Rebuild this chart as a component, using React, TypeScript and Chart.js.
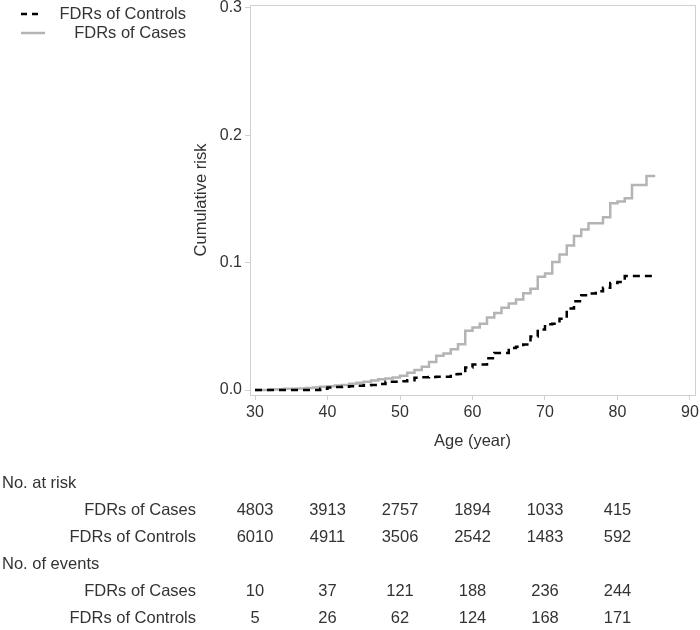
import { useEffect, useRef } from "react";
import { Chart, registerables } from "chart.js";

Chart.register(...registerables);

// ---- Data ----
const ages = [
  30, 31, 32, 33, 34, 35, 36, 37, 38, 39,
  40, 41, 42, 43, 44, 45, 46, 47, 48, 49,
  50, 51, 52, 53, 54, 55, 56, 57, 58, 59,
  60, 61, 62, 63, 64, 65, 66, 67, 68, 69,
  70, 71, 72, 73, 74, 75, 76, 77, 78, 79,
  80, 81, 82, 83, 84, 85,
];
const casesRisk = [
  0, 0, 0.0005, 0.0007, 0.001, 0.001, 0.0012, 0.0015, 0.002, 0.0025,
  0.003, 0.0035, 0.004, 0.005, 0.0058, 0.0065, 0.0075, 0.0085, 0.009, 0.0098,
  0.0112, 0.0136, 0.0157, 0.0183, 0.022, 0.027, 0.0287, 0.032, 0.036, 0.0465,
  0.049, 0.052, 0.057, 0.0605, 0.0647, 0.068, 0.071, 0.076, 0.0796, 0.089,
  0.0914, 0.1005, 0.1065, 0.1135, 0.121, 0.126, 0.131, 0.131, 0.1357, 0.1467,
  0.148, 0.1506, 0.161, 0.161, 0.168, 0.168,
];
const controlsRisk = [
  0, 0, 0, 0, 0, 0, 0, 0, 0, 0.001,
  0.002, 0.0023, 0.0026, 0.003, 0.0034, 0.0038, 0.004, 0.0047, 0.0065, 0.0065,
  0.0068, 0.0076, 0.0097, 0.01, 0.0102, 0.0104, 0.0104, 0.0123, 0.0125, 0.0177,
  0.02, 0.02, 0.025, 0.029, 0.029, 0.033, 0.034, 0.0357, 0.042, 0.0475,
  0.0517, 0.052, 0.056, 0.064, 0.0697, 0.0744, 0.0757, 0.0775, 0.0804, 0.084,
  0.0849, 0.0896, 0.0896, 0.0896, 0.0896, 0.0896,
];
const casesEndAge = 85.2;
const controlsEndAge = 85.1;

const xTicks = [30, 40, 50, 60, 70, 80, 90];
const yTicks = [0, 0.1, 0.2, 0.3];

const tableAges = [30, 40, 50, 60, 70, 80];
const casesAtRisk = [4803, 3913, 2757, 1894, 1033, 415];
const controlsAtRisk = [6010, 4911, 3506, 2542, 1483, 592];
const casesEvents = [10, 37, 121, 188, 236, 244];
const controlsEvents = [5, 26, 62, 124, 168, 171];

const labelCases = "FDRs of Cases";
const labelControls = "FDRs of Controls";

// ---- Styles ----
const FONT_FAMILY = '"Liberation Sans", Arial, sans-serif';
const TEXT_COLOR = "#333333";
const FRAME_COLOR = "#d0d0d0";
const CASES_COLOR = "#b4b4b4";
const CONTROLS_COLOR = "#000000";

function toPoints(xs: number[], ys: number[], endX: number) {
  const pts = xs.map((x, i) => ({ x, y: ys[i] }));
  pts.push({ x: endX, y: ys[ys.length - 1] });
  return pts;
}

const overlayPlugin = {
  id: "overlay",
  beforeDatasetsDraw(chart: any) {
    const { ctx, chartArea } = chart;
    ctx.save();
    ctx.strokeStyle = FRAME_COLOR;
    ctx.lineWidth = 1;
    ctx.strokeRect(
      Math.round(chartArea.left) + 0.5,
      Math.round(chartArea.top) + 0.5,
      Math.round(chartArea.right - chartArea.left),
      Math.round(chartArea.bottom - chartArea.top)
    );
    ctx.restore();
  },
  afterDraw(chart: any) {
    const { ctx, chartArea } = chart;
    const xs = chart.scales.x;
    ctx.save();
    ctx.fillStyle = TEXT_COLOR;
    ctx.font = `16.5px ${FONT_FAMILY}`;
    ctx.textBaseline = "middle";

    // Legend
    ctx.save();
    ctx.strokeStyle = CONTROLS_COLOR;
    ctx.lineWidth = 2.5;
    ctx.setLineDash([6, 5]);
    ctx.beginPath();
    ctx.moveTo(21, 14);
    ctx.lineTo(38, 14);
    ctx.stroke();
    ctx.setLineDash([]);
    ctx.strokeStyle = CASES_COLOR;
    ctx.beginPath();
    ctx.moveTo(21, 33);
    ctx.lineTo(45, 33);
    ctx.stroke();
    ctx.restore();
    ctx.textAlign = "right";
    ctx.fillText(labelControls, 186, 14);
    ctx.fillText(labelCases, 186, 33);

    // Axis titles
    ctx.textAlign = "center";
    ctx.fillText("Age (year)", (chartArea.left + chartArea.right) / 2, 441);
    ctx.save();
    ctx.translate(201, (chartArea.top + chartArea.bottom) / 2);
    ctx.rotate(-Math.PI / 2);
    ctx.fillText("Cumulative risk", 0, 0);
    ctx.restore();

    // Risk table
    const rowY = [483, 510, 537, 564, 591, 618];
    ctx.textAlign = "left";
    ctx.fillText("No. at risk", 2, rowY[0]);
    ctx.fillText("No. of events", 2, rowY[3]);
    ctx.textAlign = "right";
    ctx.fillText(labelCases, 196, rowY[1]);
    ctx.fillText(labelControls, 196, rowY[2]);
    ctx.fillText(labelCases, 196, rowY[4]);
    ctx.fillText(labelControls, 196, rowY[5]);
    ctx.textAlign = "center";
    const rows: [number[], number][] = [
      [casesAtRisk, rowY[1]],
      [controlsAtRisk, rowY[2]],
      [casesEvents, rowY[4]],
      [controlsEvents, rowY[5]],
    ];
    rows.forEach(([vals, y]) => {
      vals.forEach((v, i) => {
        ctx.fillText(String(v), xs.getPixelForValue(tableAges[i]), y);
      });
    });
    ctx.restore();
  },
};

export default function App() {
  const canvasRef = useRef<HTMLCanvasElement | null>(null);

  useEffect(() => {
    const canvas = canvasRef.current;
    if (!canvas) return;
    const tickFont = { family: FONT_FAMILY, size: 16 };
    const chart = new Chart(canvas, {
      type: "line",
      data: {
        datasets: [
          {
            label: labelControls,
            data: toPoints(ages, controlsRisk, controlsEndAge),
            borderColor: CONTROLS_COLOR,
            borderWidth: 2.5,
            borderDash: [7, 5],
            stepped: true,
            pointRadius: 0,
            fill: false,
          },
          {
            label: labelCases,
            data: toPoints(ages, casesRisk, casesEndAge),
            borderColor: CASES_COLOR,
            borderWidth: 2.5,
            stepped: true,
            pointRadius: 0,
            fill: false,
          },
        ],
      },
      options: {
        animation: false,
        responsive: false,
        maintainAspectRatio: false,
        layout: { padding: { top: 5, right: 5, left: 0, bottom: 0 } },
        plugins: {
          legend: { display: false },
          tooltip: { enabled: false },
          title: { display: false },
        },
        scales: {
          x: {
            type: "linear",
            min: 29.31,
            max: 90.69,
            afterBuildTicks: (s: any) => {
              s.ticks = xTicks.map((v) => ({ value: v }));
            },
            afterFit: (s: any) => {
              s.height = 235;
              s.paddingLeft = 0;
              s.paddingRight = 0;
            },
            ticks: {
              autoSkip: false,
              maxRotation: 0,
              color: TEXT_COLOR,
              font: tickFont,
              padding: 3,
              callback: (v: any) => String(v),
            },
            grid: {
              drawOnChartArea: false,
              drawTicks: true,
              tickLength: 5,
              color: FRAME_COLOR,
            },
            border: { display: true, color: FRAME_COLOR },
          },
          y: {
            type: "linear",
            min: -0.0039,
            max: 0.3023,
            afterBuildTicks: (s: any) => {
              s.ticks = yTicks.map((v) => ({ value: v }));
            },
            afterFit: (s: any) => {
              s.width = 250;
              s.paddingTop = 0;
              s.paddingBottom = 0;
            },
            ticks: {
              autoSkip: false,
              color: TEXT_COLOR,
              font: tickFont,
              padding: 3,
              callback: (v: any) => Number(v).toFixed(1),
            },
            grid: {
              drawOnChartArea: false,
              drawTicks: true,
              tickLength: 5,
              color: FRAME_COLOR,
            },
            border: { display: true, color: FRAME_COLOR },
          },
        },
      },
      plugins: [overlayPlugin],
    } as any);
    return () => chart.destroy();
  }, []);

  return (
    <div style={{ position: "absolute", left: 0, top: 0, width: 700, height: 630, background: "#fff" }}>
      <canvas ref={canvasRef} width={700} height={630} style={{ display: "block" }} />
    </div>
  );
}
